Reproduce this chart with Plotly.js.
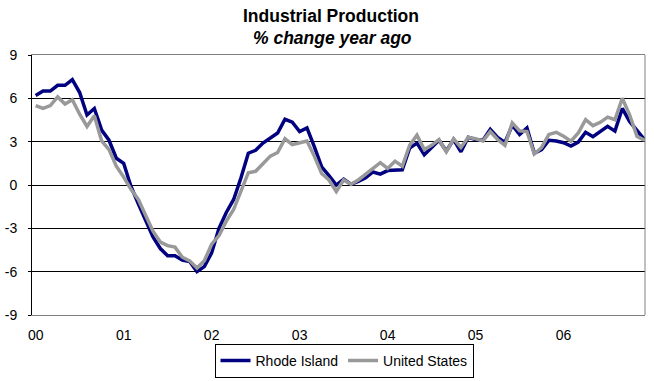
<!DOCTYPE html>
<html>
<head>
<meta charset="utf-8">
<script src="https://cdn.plot.ly/plotly-3.0.1.min.js"></script>
<style>
  html, body { margin: 0; padding: 0; background: #ffffff; }
  #chart { width: 654px; height: 381px; }
</style>
</head>
<body>
<div id="chart"></div>
<script>
// Monthly year-over-year % change in industrial production, Jan 2000 - Dec 2006
const yearLabels = ['00', '01', '02', '03', '04', '05', '06'];

const rhodeIsland = [
  // 2000
  6.2, 6.5, 6.5, 6.9, 6.9, 7.3, 6.4, 4.85, 5.3, 3.8, 3.1, 1.85,
  // 2001
  1.5, -0.1, -1.3, -2.5, -3.6, -4.4, -4.9, -4.9, -5.2, -5.3, -6.0, -5.65,
  // 2002
  -4.7, -3.0, -1.9, -1.0, 0.5, 2.2, 2.4, 2.9, 3.25, 3.6, 4.55, 4.35,
  // 2003
  3.7, 3.95, 2.65, 1.25, 0.65, 0.0, 0.4, 0.05, 0.25, 0.5, 0.9, 0.75,
  // 2004
  1.0, 1.05, 1.05, 2.55, 2.9, 2.1, 2.6, 3.1, 2.35, 3.15, 2.3, 3.3,
  // 2005
  3.15, 3.1, 3.85, 3.3, 2.95, 4.15, 3.5, 3.95, 2.2, 2.45, 3.1, 3.05,
  // 2006
  2.93, 2.7, 2.97, 3.65, 3.34, 3.73, 4.06, 3.73, 5.3, 4.4, 3.73, 3.15
];

const unitedStates = [
  // 2000
  5.5, 5.3, 5.5, 6.1, 5.6, 5.9, 4.9, 4.05, 4.8, 3.05, 2.45, 1.3,
  // 2001
  0.55, -0.3, -1.0, -2.1, -3.2, -3.95, -4.2, -4.3, -5.0, -5.25, -5.75, -5.25,
  // 2002
  -4.1, -3.5, -2.5, -1.7, -0.45, 0.85, 0.95, 1.5, 2.0, 2.25, 3.2, 2.8,
  // 2003
  2.9, 3.05, 2.0, 0.8, 0.35, -0.45, 0.35, 0.05, 0.35, 0.75, 1.2, 1.55,
  // 2004
  1.15, 1.65, 1.3, 2.75, 3.45, 2.45, 2.75, 3.15, 2.3, 3.2, 2.6, 3.3,
  // 2005
  3.2, 3.05, 3.7, 3.15, 2.75, 4.3, 3.75, 3.7, 2.15, 2.6, 3.5, 3.65,
  // 2006
  3.38, 3.04, 3.6, 4.52, 4.11, 4.34, 4.7, 4.52, 6.0, 4.86, 3.38, 3.1
];

const yTicks = [-9, -6, -3, 0, 3, 6, 9];

// month index along the category axis
const months = rhodeIsland.map((_, i) => i);
const yearTickPositions = yearLabels.map((_, k) => k * 12);

const FONT = 'Liberation Sans, Arial, Helvetica, sans-serif';
const W = 654, H = 381;

const traces = [
  {
    x: months,
    y: rhodeIsland,
    name: 'Rhode Island',
    type: 'scatter',
    mode: 'lines',
    line: { color: '#000080', width: 3.5 }
  },
  {
    x: months,
    y: unitedStates,
    name: 'United States',
    type: 'scatter',
    mode: 'lines',
    line: { color: '#999999', width: 3.5 }
  }
];

const layout = {
  width: W,
  height: H,
  margin: { l: 32, r: 9, t: 55, b: 66 },
  paper_bgcolor: '#ffffff',
  plot_bgcolor: '#ffffff',
  font: { family: FONT, size: 14, color: '#000000' },
  title: {
    text: '<b>Industrial Production</b>',
    font: { family: FONT, size: 17.5, color: '#000000' },
    xref: 'container',
    x: 331 / W,
    xanchor: 'center',
    yref: 'container',
    y: 1 - 16 / H,
    yanchor: 'middle'
  },
  annotations: [
    {
      text: '<b><i>% change year ago</i></b>',
      font: { family: FONT, size: 17.5, color: '#000000' },
      xref: 'paper', yref: 'paper',
      x: (332 - 32) / 613,
      y: 1 + (55 - 38) / 260,
      xanchor: 'center', yanchor: 'middle',
      showarrow: false
    }
  ],
  xaxis: {
    range: [-0.5, 83.1],
    tickmode: 'array',
    tickvals: yearTickPositions,
    ticktext: yearLabels,
    ticks: '',
    showgrid: false,
    zeroline: false,
    showline: true,
    linecolor: '#808080',
    linewidth: 1,
    mirror: true,
    tickfont: { family: FONT, size: 14, color: '#000000' },
    ticklabelstandoff: 7,
    fixedrange: true
  },
  yaxis: {
    range: [-9, 9],
    tickmode: 'array',
    tickvals: yTicks,
    ticktext: yTicks.map(String),
    ticks: 'outside',
    ticklen: 3,
    tickcolor: '#000000',
    showgrid: true,
    gridcolor: '#000000',
    gridwidth: 1,
    zeroline: false,
    showline: true,
    linecolor: '#000000',
    linewidth: 1,
    tickfont: { family: FONT, size: 14, color: '#000000' },
    ticklabelstandoff: 8,
    fixedrange: true
  },
  shapes: [
    {
      type: 'line', xref: 'paper', yref: 'paper',
      x0: 1, x1: 1, y0: 0, y1: 1,
      line: { color: '#808080', width: 1 }
    }
  ],
  showlegend: true,
  legend: {
    orientation: 'h',
    xref: 'container',
    x: 344 / W,
    xanchor: 'center',
    yref: 'container',
    y: 1 - 344 / H,
    yanchor: 'top',
    bordercolor: '#000000',
    borderwidth: 1,
    bgcolor: '#ffffff',
    font: { family: FONT, size: 14, color: '#000000' },
    itemwidth: 30,
    tracegroupgap: 0
  }
};

Plotly.newPlot('chart', traces, layout, { displayModeBar: false, staticPlot: true });
</script>
</body>
</html>
